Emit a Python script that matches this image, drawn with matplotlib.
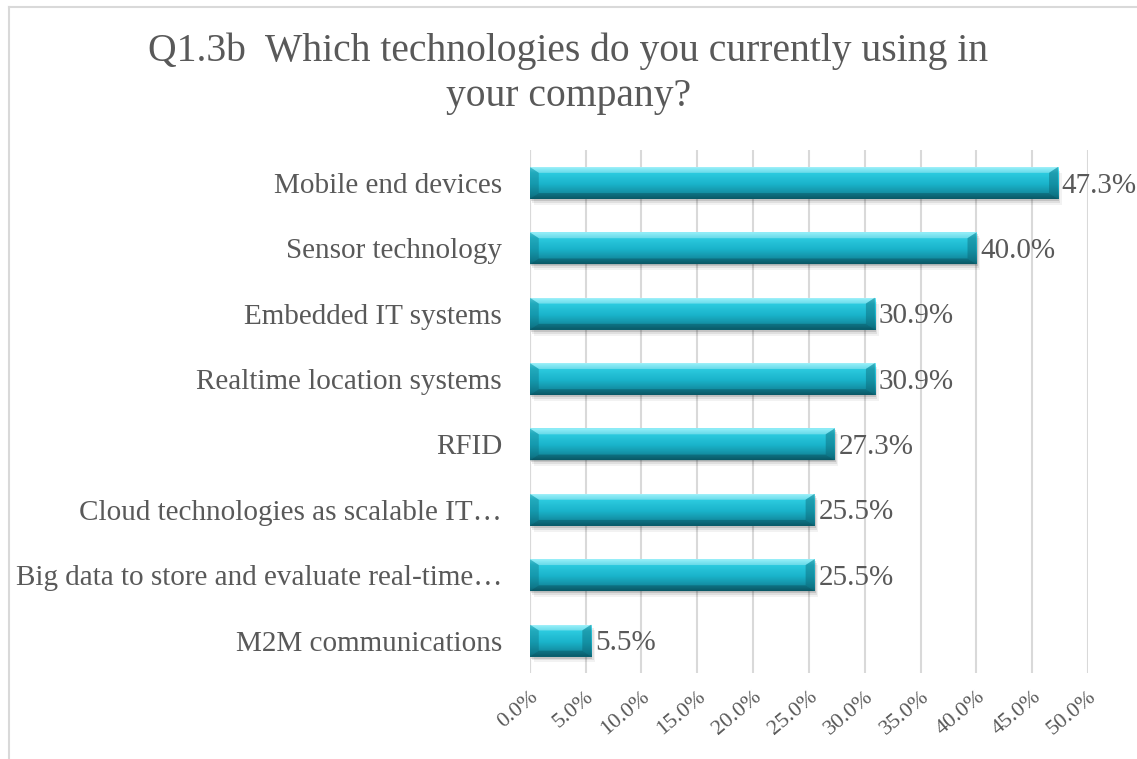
import matplotlib.pyplot as plt
import numpy as np
from matplotlib.colors import LinearSegmentedColormap
from matplotlib.patches import Rectangle, Polygon
from matplotlib.lines import Line2D

categories = ['Mobile end devices', 'Sensor technology', 'Embedded IT systems',
              'Realtime location systems', 'RFID',
              'Cloud technologies as scalable IT…',
              'Big data to store and evaluate real-time…',
              'M2M communications']
values = [47.3, 40.0, 30.9, 30.9, 27.3, 25.5, 25.5, 5.5]
xticks = [0, 5, 10, 15, 20, 25, 30, 35, 40, 45, 50]
title = 'Q1.3b  Which technologies do you currently using in\nyour company?'

plt.rcParams['font.family'] = ['Liberation Serif', 'DejaVu Serif']
text_color = '#595959'

fig = plt.figure(figsize=(11.37, 7.59), dpi=100)
ax = fig.add_axes([0.466, 0.113, 0.491, 0.689])

# chart frame (left and top edges)
fig.add_artist(Line2D([9 / 1137, 9 / 1137], [0, 1 - 7 / 759], transform=fig.transFigure,
                      color='#d9d9d9', lw=1.5))
fig.add_artist(Line2D([9 / 1137, 1], [1 - 7 / 759, 1 - 7 / 759], transform=fig.transFigure,
                      color='#d9d9d9', lw=1.5))

# y axis is inverted, so row 0 of the gradient is the visual top of a bar
cmap = LinearSegmentedColormap.from_list('bar', [
    (0.0, '#8eeef8'), (0.08, '#55e2f2'), (0.2, '#2ccbe0'),
    (0.55, '#1ab3ca'), (0.88, '#12879b'), (1.0, '#0c6878')])
grad = np.linspace(0, 1, 64).reshape(-1, 1)

h = 0.49
bx = 0.8   # bevel width in data units (x)
by = 0.09  # bevel height in data units (y)
y = np.arange(len(categories))

for yi, v in zip(y, values):
    top, bot = yi - h / 2, yi + h / 2   # visual top / bottom
    # soft shadow
    for k, a in enumerate([0.12, 0.08, 0.05]):
        off = 0.03 * (k + 1)
        ax.add_patch(Rectangle((0.1 + 0.12 * k, top + off), v, h, color='black',
                               alpha=a, lw=0, zorder=2))
    rect = Rectangle((0, top), v, h, facecolor='none', edgecolor='none', zorder=3)
    ax.add_patch(rect)
    im = ax.imshow(grad, cmap=cmap, origin='upper', aspect='auto',
                   extent=[0, v, bot, top], zorder=3)
    im.set_clip_path(rect)
    # bevels
    ax.add_patch(Polygon([(0, top), (v, top), (v - bx, top + by), (bx, top + by)],
                         color='white', alpha=0.3, lw=0, zorder=4))
    ax.add_patch(Polygon([(0, bot), (v, bot), (v - bx, bot - by), (bx, bot - by)],
                         color='#053c46', alpha=0.35, lw=0, zorder=4))
    ax.add_patch(Polygon([(0, bot), (0, top), (bx, top + by), (bx, bot - by)],
                         color='#0a5d6b', alpha=0.3, lw=0, zorder=4))
    ax.add_patch(Polygon([(v, bot), (v, top), (v - bx, top + by), (v - bx, bot - by)],
                         color='#0a5d6b', alpha=0.4, lw=0, zorder=4))
    ax.text(v + 0.35, yi + 0.04, f'{v:.1f}%', va='center', ha='left', fontsize=21,
            color=text_color, zorder=5)

ax.set_xlim(0, 50)
ax.set_ylim(len(categories) - 0.5, -0.5)
ax.set_xticks(xticks)
ax.set_xticklabels([f'{t:.1f}%' for t in xticks], rotation=40, ha='right',
                   rotation_mode='anchor', fontsize=16, color=text_color)
ax.set_yticks(y)
ax.set_yticklabels(categories, fontsize=21, color=text_color)
ax.tick_params(axis='both', length=0)
ax.tick_params(axis='y', pad=20)
ax.tick_params(axis='x', pad=10)
ax.grid(axis='x', color='#d9d9d9', lw=1.5, zorder=0)
ax.set_axisbelow(True)
for s in ax.spines.values():
    s.set_visible(False)
ax.axvline(0, color='#d9d9d9', lw=1.5, zorder=1)

fig.text(0.5, 1 - 74 / 759, title, ha='center', va='center', fontsize=28.5,
         color=text_color, linespacing=1.3)

fig.savefig('out.png', dpi=100)
